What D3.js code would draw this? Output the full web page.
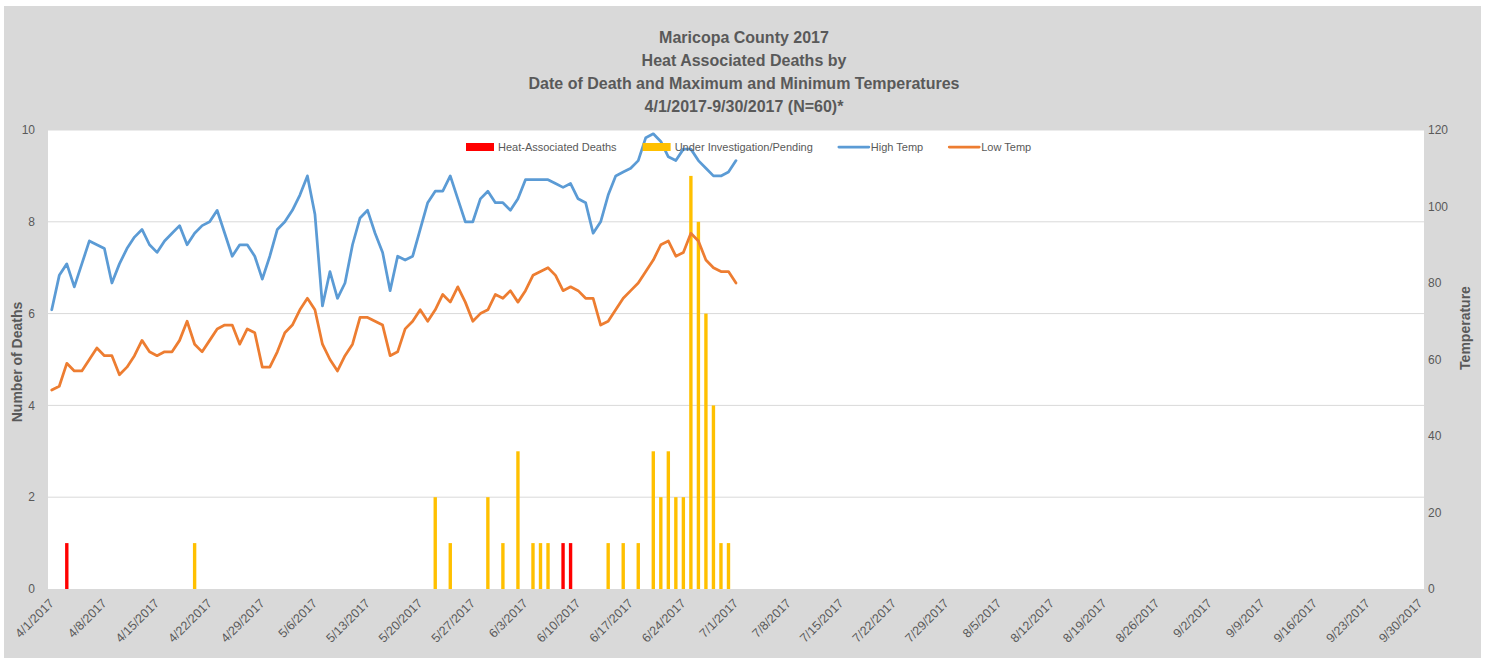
<!DOCTYPE html>
<html>
<head>
<meta charset="utf-8">
<script src="https://cdn.jsdelivr.net/npm/d3@7"></script>
<style>
  body { margin: 0; background: #fff; }
  text { font-family: "Liberation Sans", Arial, sans-serif; fill: #595959; }
</style>
</head>
<body>
<div id="chart"></div>
<script>
const width = 1485, height = 664;

const titleLines = [
  "Maricopa County 2017",
  "Heat Associated Deaths by",
  "Date of Death and Maximum and Minimum Temperatures",
  "4/1/2017-9/30/2017 (N=60)*"
];

// daily temps 4/1/2017 .. 7/1/2017
const highTemp = [
  73, 82, 85, 79, 85, 91, 90, 89, 80, 85,
  89, 92, 94, 90, 88, 91, 93, 95, 90, 93,
  95, 96, 99, 93, 87, 90, 90, 87, 81, 87,
  94, 96, 99, 103, 108, 98, 74, 83, 76, 80,
  90, 97, 99, 93, 88, 78, 87, 86, 87, 94,
  101, 104, 104, 108, 102, 96, 96, 102, 104, 101,
  101, 99, 102, 107, 107, 107, 107, 106, 105, 106,
  102, 101, 93, 96, 103, 108, 109, 110, 112, 118,
  119, 117, 113, 112, 115, 115, 112, 110, 108, 108,
  109, 112
];
const lowTemp = [
  52, 53, 59, 57, 57, 60, 63, 61, 61, 56,
  58, 61, 65, 62, 61, 62, 62, 65, 70, 64,
  62, 65, 68, 69, 69, 64, 68, 67, 58, 58,
  62, 67, 69, 73, 76, 73, 64, 60, 57, 61,
  64, 71, 71, 70, 69, 61, 62, 68, 70, 73,
  70, 73, 77, 75, 79, 75, 70, 72, 73, 77,
  76, 78, 75, 78, 82, 83, 84, 82, 78, 79,
  78, 76, 76, 69, 70, 73, 76, 78, 80, 83,
  86, 90, 91, 87, 88, 93, 91, 86, 84, 83,
  83, 80
];

const heatDates = ["4/3/2017", "6/8/2017", "6/9/2017"];
const heatCounts = [1, 1, 1];

const pendingDates = ["4/20/2017", "5/22/2017", "5/24/2017", "5/29/2017", "5/31/2017",
  "6/2/2017", "6/4/2017", "6/5/2017", "6/6/2017", "6/14/2017", "6/16/2017", "6/18/2017",
  "6/20/2017", "6/21/2017", "6/22/2017", "6/23/2017", "6/24/2017", "6/25/2017",
  "6/26/2017", "6/27/2017", "6/28/2017", "6/29/2017", "6/30/2017"];
const pendingCounts = [1, 2, 1, 2, 1, 3, 1, 1, 1, 1, 1, 1, 3, 2, 3, 2, 2, 9, 8, 6, 4, 1, 1];

const deathTicks = [0, 2, 4, 6, 8, 10];
const tempTicks = [0, 20, 40, 60, 80, 100, 120];

const fmt = d3.timeFormat("%-m/%-d/%Y");
const days = d3.timeDay.range(new Date(2017, 3, 1), new Date(2017, 9, 1)).map(fmt);
const labelDays = days.filter((d, i) => i % 7 === 0);

const plot = {left: 48, right: 1424, top: 130, bottom: 589};

const svg = d3.select("#chart")
  .append("svg")
  .attr("width", width)
  .attr("height", height);

svg.append("rect")
  .attr("x", 4).attr("y", 6)
  .attr("width", 1477).attr("height", 652)
  .attr("fill", "#d9d9d9");

svg.append("rect")
  .attr("x", plot.left).attr("y", plot.top)
  .attr("width", plot.right - plot.left).attr("height", plot.bottom - plot.top)
  .attr("fill", "#fff");

const x = d3.scaleBand()
  .domain(days)
  .range([plot.left, plot.right])
  .paddingInner(0.55)
  .paddingOuter(0.275);
const cx = d => x(d) + x.bandwidth() / 2;

const yDeaths = d3.scaleLinear().domain([0, 10]).range([plot.bottom, plot.top]);
const yTemp = d3.scaleLinear().domain([0, 120]).range([plot.bottom, plot.top]);

// gridlines
svg.append("g")
  .selectAll("line")
  .data(deathTicks.filter(d => d > 0))
  .join("line")
  .attr("x1", plot.left).attr("x2", plot.right)
  .attr("y1", d => yDeaths(d)).attr("y2", d => yDeaths(d))
  .attr("stroke", "#d9d9d9")
  .attr("stroke-width", 1);

// left axis
svg.append("g")
  .selectAll("text")
  .data(deathTicks)
  .join("text")
  .attr("x", 35)
  .attr("y", d => yDeaths(d))
  .attr("dy", "0.35em")
  .attr("text-anchor", "end")
  .attr("font-size", 12)
  .text(d => d);

// right axis
svg.append("g")
  .selectAll("text")
  .data(tempTicks)
  .join("text")
  .attr("x", 1428)
  .attr("y", d => yTemp(d))
  .attr("dy", "0.35em")
  .attr("font-size", 12)
  .text(d => d);

// x labels
svg.append("g")
  .selectAll("text")
  .data(labelDays)
  .join("text")
  .attr("transform", d => `translate(${cx(d) + 3},${604}) rotate(-45)`)
  .attr("text-anchor", "end")
  .attr("font-size", 12.5)
  .text(d => d);

// axis titles
svg.append("text")
  .attr("transform", "translate(22,362) rotate(-90)")
  .attr("text-anchor", "middle")
  .attr("font-size", 14)
  .attr("font-weight", "bold")
  .text("Number of Deaths");

svg.append("text")
  .attr("transform", "translate(1470,328) rotate(-90)")
  .attr("text-anchor", "middle")
  .attr("font-size", 14)
  .attr("font-weight", "bold")
  .text("Temperature");

// title
svg.append("g")
  .selectAll("text")
  .data(titleLines)
  .join("text")
  .attr("x", 744)
  .attr("y", (d, i) => 43 + i * 23)
  .attr("text-anchor", "middle")
  .attr("font-size", 16)
  .attr("font-weight", "bold")
  .text(d => d);

// bars
const pending = pendingDates.map((d, i) => ({date: d, value: pendingCounts[i]}));
const heat = heatDates.map((d, i) => ({date: d, value: heatCounts[i]}));

svg.append("g")
  .selectAll("rect")
  .data(pending)
  .join("rect")
  .attr("x", d => x(d.date))
  .attr("width", x.bandwidth())
  .attr("y", d => yDeaths(d.value))
  .attr("height", d => yDeaths(0) - yDeaths(d.value))
  .attr("fill", "#ffc000");

svg.append("g")
  .selectAll("rect")
  .data(heat)
  .join("rect")
  .attr("x", d => x(d.date))
  .attr("width", x.bandwidth())
  .attr("y", d => yDeaths(d.value))
  .attr("height", d => yDeaths(0) - yDeaths(d.value))
  .attr("fill", "#ff0000");

// lines
const line = d3.line()
  .x((d, i) => cx(days[i]))
  .y(d => yTemp(d));

svg.append("path")
  .attr("d", line(highTemp))
  .attr("fill", "none")
  .attr("stroke", "#5b9bd5")
  .attr("stroke-width", 2.75)
  .attr("stroke-linejoin", "round")
  .attr("stroke-linecap", "round");

svg.append("path")
  .attr("d", line(lowTemp))
  .attr("fill", "none")
  .attr("stroke", "#ed7d31")
  .attr("stroke-width", 2.75)
  .attr("stroke-linejoin", "round")
  .attr("stroke-linecap", "round");

// legend
const legendItems = [
  {name: "Heat-Associated Deaths", color: "#ff0000", type: "bar"},
  {name: "Under Investigation/Pending", color: "#ffc000", type: "bar"},
  {name: "High Temp", color: "#5b9bd5", type: "line"},
  {name: "Low Temp", color: "#ed7d31", type: "line"}
];
const legend = svg.append("g");
let lx = 466;
const ly = 147;
legendItems.forEach(item => {
  if (item.type === "bar") {
    legend.append("rect")
      .attr("x", lx).attr("y", ly - 4)
      .attr("width", 28).attr("height", 8)
      .attr("fill", item.color);
  } else {
    legend.append("line")
      .attr("x1", lx).attr("x2", lx + 30)
      .attr("y1", ly).attr("y2", ly)
      .attr("stroke", item.color)
      .attr("stroke-width", 2.75)
      .attr("stroke-linecap", "round");
  }
  const t = legend.append("text")
    .attr("x", lx + 32)
    .attr("y", ly)
    .attr("dy", "0.35em")
    .attr("font-size", 11)
    .text(item.name);
  lx += 32 + t.node().getComputedTextLength() + 26;
});
</script>
</body>
</html>
